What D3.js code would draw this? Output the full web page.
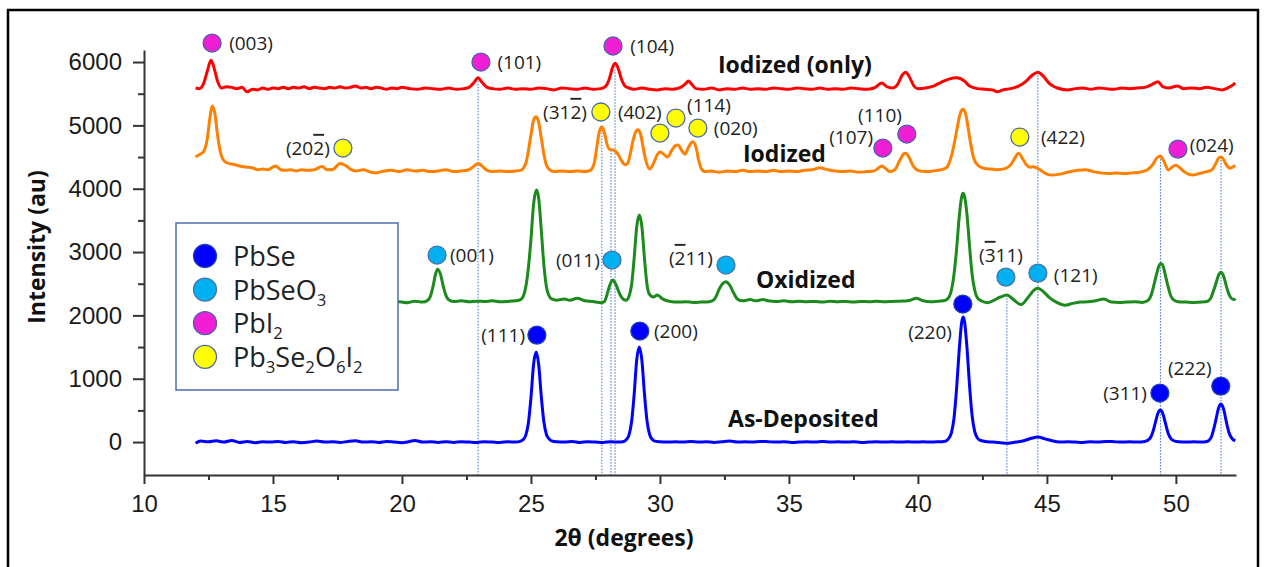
<!DOCTYPE html>
<html><head><meta charset="utf-8">
<script src="https://cdn.jsdelivr.net/npm/d3@7"></script>
<style>body{margin:0;background:#fff}svg{display:block}</style>
</head><body>
<svg id="chart" width="1265" height="567"></svg>
<script>
// ---------------- DATA ----------------
const asDeposited = [[12.0,-20],[12.2,15],[12.5,5],[12.8,20],[13.1,0],[13.4,25],[13.7,-5],[14.0,10],[14.3,-10],[14.6,5],[14.9,0],[15.2,10],[15.5,-5],[15.8,5],[16.1,-10],[16.4,0],[16.7,15],[17.0,0],[17.3,5],[17.6,-5],[17.9,10],[18.2,20],[18.5,0],[18.8,5],[19.1,-5],[19.4,10],[19.7,0],[20.0,-10],[20.3,10],[20.5,25],[20.8,0],[21.1,5],[21.4,-5],[21.7,5],[22.0,-5],[22.3,5],[22.6,0],[22.9,-5],[23.2,5],[23.5,0],[23.8,-5],[24.1,5],[24.4,0],[24.6,15],
[24.7,40],[24.8,110],[24.9,300],[25.0,700],[25.1,1220],[25.2,1420],[25.3,1220],[25.4,720],[25.5,320],[25.6,120],[25.7,50],[25.8,20],[26.0,5],[26.3,0],[26.6,10],[26.9,-5],[27.2,5],[27.5,0],[27.8,-5],[28.1,5],[28.4,0],[28.6,10],
[28.7,40],[28.8,110],[28.9,320],[29.0,750],[29.1,1300],[29.2,1500],[29.3,1290],[29.4,760],[29.5,330],[29.6,120],[29.7,45],[29.8,15],[30.0,5],[30.3,0],[30.6,5],[30.9,0],[31.2,10],[31.5,0],[31.8,5],[32.1,-5],[32.4,5],[32.7,15],[33.0,0],[33.3,5],[33.6,0],[33.9,10],[34.2,5],[34.5,0],[34.8,5],[35.1,-5],[35.4,0],[35.7,5],[36.0,0],[36.3,10],[36.6,0],[36.9,5],[37.2,0],[37.5,5],[37.8,-5],[38.1,0],[38.4,5],[38.7,0],[39.0,5],[39.3,0],[39.6,5],[39.9,0],[40.2,5],[40.5,0],[40.8,5],[41.0,10],[41.1,20],
[41.2,60],[41.3,150],[41.4,380],[41.5,850],[41.6,1450],[41.7,1900],[41.75,1975],[41.8,1920],[41.9,1500],[42.0,900],[42.1,420],[42.2,170],[42.3,70],[42.4,30],[42.6,10],[42.9,0],[43.2,-10],[43.5,-20],[43.8,0],[44.1,20],[44.4,60],[44.65,80],[44.9,55],[45.2,20],[45.5,0],[45.8,5],[46.1,0],[46.4,-5],[46.7,5],[47.0,0],[47.3,10],[47.6,5],[47.9,0],[48.2,5],[48.5,0],[48.8,10],[49.0,60],
[49.1,150],[49.2,300],[49.3,450],[49.4,505],[49.5,440],[49.6,290],[49.7,140],[49.8,60],[49.9,25],[50.1,5],[50.4,0],[50.7,5],[51.0,0],[51.2,10],[51.35,60],
[51.45,180],[51.55,350],[51.65,530],[51.75,600],[51.85,520],[51.95,330],[52.05,160],[52.15,70],[52.3,20]];

const oxidized = [[12.0,2200],[13.0,2220],[14.0,2210],[15.0,2230],[16.0,2210],[17.0,2220],[18.0,2210],[19.0,2220],[19.6,2210],[19.9,2215],[20.2,2200],[20.5,2225],[20.8,2210],[21.0,2240],
[21.1,2300],[21.2,2450],[21.3,2650],[21.38,2730],[21.5,2640],[21.6,2460],[21.7,2320],[21.8,2250],[22.0,2220],[22.3,2230],[22.6,2215],[22.9,2225],[23.2,2220],[23.5,2230],[23.8,2215],[24.1,2220],[24.4,2230],[24.6,2250],
[24.7,2300],[24.8,2450],[24.9,2750],[25.0,3200],[25.1,3750],[25.22,3980],[25.3,3850],[25.4,3350],[25.5,2800],[25.6,2450],[25.7,2310],[25.8,2260],[26.0,2240],[26.3,2260],[26.5,2240],[26.8,2270],[27.1,2230],[27.4,2220],[27.7,2200],[27.85,2220],
[27.95,2330],[28.05,2470],[28.17,2560],[28.3,2480],[28.45,2330],[28.6,2250],[28.7,2240],[28.8,2300],
[28.9,2480],[29.0,2900],[29.1,3400],[29.2,3585],[29.3,3400],[29.4,2900],[29.5,2480],[29.6,2330],[29.75,2290],[29.9,2320],[30.1,2260],[30.4,2220],[30.7,2210],[31.0,2215],[31.3,2205],[31.6,2210],[31.9,2215],[32.1,2250],
[32.2,2320],[32.3,2420],[32.45,2510],[32.56,2530],[32.7,2480],[32.85,2360],[33.0,2260],[33.2,2230],[33.5,2250],[33.7,2230],[34.0,2250],[34.2,2230],[34.5,2220],[34.8,2230],[35.1,2215],[35.4,2225],[35.7,2215],[36.0,2220],[36.3,2210],[36.6,2225],[36.9,2215],[37.2,2220],[37.5,2210],[37.8,2220],[38.1,2215],[38.4,2225],[38.7,2215],[39.0,2220],[39.3,2225],[39.6,2230],[39.95,2270],[40.2,2230],[40.5,2215],[40.8,2225],[41.0,2230],[41.15,2260],
[41.3,2400],[41.4,2650],[41.5,3050],[41.6,3550],[41.7,3880],[41.75,3930],[41.8,3890],[41.9,3600],[42.0,3100],[42.1,2650],[42.2,2400],[42.3,2280],[42.45,2230],[42.7,2200],[42.9,2230],[43.2,2290],[43.45,2320],[43.7,2250],[44.0,2170],[44.3,2300],[44.5,2400],[44.65,2430],[44.85,2380],[45.1,2280],[45.4,2200],[45.7,2160],[46.0,2190],[46.3,2210],[46.6,2215],[46.9,2230],[47.2,2260],[47.5,2210],[47.8,2205],[48.1,2210],[48.4,2215],[48.7,2205],[48.9,2230],
[49.05,2330],[49.15,2480],[49.25,2650],[49.35,2790],[49.42,2820],[49.5,2780],[49.6,2620],[49.7,2450],[49.8,2310],[49.9,2250],[50.1,2215],[50.4,2210],[50.7,2205],[51.0,2210],[51.2,2220],[51.35,2270],
[51.45,2380],[51.55,2500],[51.65,2630],[51.75,2680],[51.85,2620],[51.95,2470],[52.05,2340],[52.15,2270],[52.25,2250],[52.3,2270]];

const iodized = [[12.0,4500],[12.15,4540],[12.3,4580],[12.45,4780],[12.55,5100],[12.64,5305],[12.75,5180],[12.85,4850],[12.95,4600],[13.05,4470],[13.2,4410],[13.4,4390],[13.6,4370],[13.8,4350],[14.0,4340],[14.2,4330],[14.4,4300],[14.6,4310],[14.8,4300],[15.1,4360],[15.3,4300],[15.5,4290],[15.7,4300],[15.9,4280],[16.1,4300],[16.3,4290],[16.6,4300],[16.9,4350],[17.1,4300],[17.3,4300],[17.6,4400],[17.8,4370],[18.0,4310],[18.2,4280],[18.5,4300],[18.8,4260],[19.0,4250],[19.3,4280],[19.6,4290],[19.9,4270],[20.2,4300],[20.5,4280],[20.8,4290],[21.1,4270],[21.4,4280],[21.7,4300],[22.0,4270],[22.3,4280],[22.6,4300],[22.8,4360],[22.95,4400],[23.1,4360],[23.3,4290],[23.5,4270],[23.8,4280],[24.1,4270],[24.4,4280],[24.6,4290],
[24.8,4400],[24.9,4600],[25.0,4850],[25.1,5080],[25.2,5135],[25.3,5050],[25.4,4800],[25.5,4550],[25.6,4370],[25.75,4290],[25.9,4270],[26.2,4280],[26.5,4270],[26.8,4280],[27.1,4270],[27.3,4290],[27.45,4400],
[27.55,4650],[27.65,4900],[27.75,4980],[27.85,4880],[27.95,4700],[28.05,4620],[28.2,4610],[28.35,4560],[28.5,4450],[28.65,4380],[28.75,4400],[28.85,4550],
[28.95,4750],[29.05,4890],[29.15,4930],[29.25,4860],[29.35,4650],[29.45,4450],[29.6,4310],[29.75,4400],[29.9,4540],[30.0,4580],[30.1,4560],[30.3,4500],[30.45,4600],[30.6,4680],[30.7,4690],[30.85,4600],[30.97,4545],[31.1,4650],[31.27,4740],[31.4,4650],[31.5,4450],[31.6,4320],[31.75,4270],[32.0,4280],[32.3,4260],[32.6,4280],[32.9,4270],[33.2,4290],[33.5,4270],[33.8,4280],[34.1,4270],[34.4,4290],[34.7,4270],[35.0,4280],[35.3,4270],[35.6,4290],[35.9,4300],[36.2,4330],[36.5,4300],[36.8,4280],[37.1,4270],[37.4,4280],[37.7,4260],[38.0,4270],[38.3,4280],[38.45,4320],[38.6,4360],[38.75,4320],[38.9,4270],[39.1,4300],[39.3,4450],[39.45,4550],[39.53,4560],[39.65,4500],[39.8,4370],[40.0,4290],[40.3,4270],[40.6,4280],[40.9,4300],[41.1,4330],[41.25,4450],
[41.35,4600],[41.45,4800],[41.55,5020],[41.65,5200],[41.75,5255],[41.85,5180],[41.95,4950],[42.05,4700],[42.15,4500],[42.3,4380],[42.5,4330],[42.8,4310],[43.1,4300],[43.4,4320],[43.6,4380],[43.75,4480],[43.9,4560],[44.05,4480],[44.2,4380],[44.35,4340],[44.45,4345],[44.6,4330],[44.8,4280],[45.0,4230],[45.2,4215],[45.5,4230],[45.8,4260],[46.2,4290],[46.5,4300],[46.8,4270],[47.1,4250],[47.4,4240],[47.7,4250],[48.0,4240],[48.3,4250],[48.6,4260],[48.9,4300],[49.1,4380],[49.25,4480],[49.4,4515],[49.55,4420],[49.7,4295],[49.85,4340],[50.0,4370],[50.15,4330],[50.35,4260],[50.65,4215],[50.9,4240],[51.2,4270],[51.4,4300],[51.55,4400],[51.65,4480],[51.75,4500],[51.85,4460],[51.95,4380],[52.1,4325],[52.2,4340],[52.3,4370]];

const iodizedOnly = [[12.0,5590],[12.15,5580],[12.3,5650],[12.45,5850],[12.6,6030],[12.72,5900],[12.85,5700],[13.0,5590],[13.2,5610],[13.4,5600],[13.6,5580],[13.8,5600],[14.0,5530],[14.2,5570],[14.4,5560],[14.6,5590],[14.8,5570],[15.0,5590],[15.2,5580],[15.4,5600],[15.6,5580],[15.8,5600],[16.0,5590],[16.2,5610],[16.4,5580],[16.6,5600],[16.8,5590],[17.0,5580],[17.2,5600],[17.4,5590],[17.6,5610],[17.8,5590],[18.0,5600],[18.2,5620],[18.4,5590],[18.6,5600],[18.8,5580],[19.0,5600],[19.2,5590],[19.4,5570],[19.6,5590],[19.8,5580],[20.0,5600],[20.3,5580],[20.6,5570],[20.9,5590],[21.2,5580],[21.5,5570],[21.8,5590],[22.1,5570],[22.4,5580],[22.6,5600],[22.8,5680],[22.95,5750],[23.1,5680],[23.3,5600],[23.5,5580],[23.8,5570],[24.1,5590],[24.4,5570],[24.7,5580],[25.0,5570],[25.3,5590],[25.6,5580],[25.9,5560],[26.2,5590],[26.5,5580],[26.8,5570],[27.1,5590],[27.4,5570],[27.7,5580],[27.9,5620],[28.05,5750],[28.15,5900],[28.26,5980],[28.38,5900],[28.5,5740],[28.65,5620],[28.8,5590],[29.0,5570],[29.3,5590],[29.6,5570],[29.9,5560],[30.2,5580],[30.5,5570],[30.8,5600],[31.0,5660],[31.1,5700],[31.25,5640],[31.4,5580],[31.7,5570],[32.0,5590],[32.3,5560],[32.6,5580],[32.9,5570],[33.2,5590],[33.5,5570],[33.8,5580],[34.1,5570],[34.4,5590],[34.7,5580],[35.0,5570],[35.3,5590],[35.6,5580],[35.9,5570],[36.2,5590],[36.5,5570],[36.8,5580],[37.1,5570],[37.4,5590],[37.7,5580],[38.0,5570],[38.3,5590],[38.6,5670],[38.8,5610],[39.0,5590],[39.2,5640],[39.4,5800],[39.53,5840],[39.65,5780],[39.85,5620],[40.0,5580],[40.3,5590],[40.6,5620],[40.9,5680],[41.2,5730],[41.5,5750],[41.8,5700],[42.0,5620],[42.3,5580],[42.6,5570],[42.9,5560],[43.06,5530],[43.3,5560],[43.6,5580],[43.9,5620],[44.2,5700],[44.45,5800],[44.65,5840],[44.85,5780],[45.1,5660],[45.4,5590],[45.8,5560],[46.1,5580],[46.4,5590],[46.7,5570],[47.0,5590],[47.3,5580],[47.6,5570],[47.9,5590],[48.2,5580],[48.5,5590],[48.8,5600],[49.1,5650],[49.3,5690],[49.5,5610],[49.7,5590],[50.07,5620],[50.3,5580],[50.6,5590],[50.9,5580],[51.2,5600],[51.5,5580],[51.8,5560],[52.0,5590],[52.15,5620],[52.3,5670]];

const seriesNames = ["As-Deposited", "Oxidized", "Iodized", "Iodized (only)"];
// name label anchor (start of text, baseline) in data units
const seriesLabelX = [32.64, 33.72, 33.22, 32.25];
const seriesLabelY = [237, 2432, 4421, 5826];

const phaseNames = ["PbSe", "PbSeO_3", "PbI_2", "Pb_3Se_2O_6I_2"];

// reflection markers: phase index, circle position, hkl label, label position (data units), anchor
const reflections = [
  {p:2, x:12.64, y:6300, t:"(003)", lx:13.3,  ly:6300, a:"start"},
  {p:2, x:23.06, y:6000, t:"(101)", lx:23.7,  ly:6000, a:"start"},
  {p:2, x:28.18, y:6253, t:"(104)", lx:28.85, ly:6253, a:"start"},
  {p:3, x:17.71, y:4642, t:"(20^2)", lx:17.2, ly:4642, a:"end"},
  {p:3, x:27.71, y:5211, t:"(31^2)", lx:27.17, ly:5211, a:"end"},
  {p:3, x:30.0,  y:4879, t:"(402)", lx:28.37, ly:5211, a:"start"},
  {p:3, x:30.62, y:5116, t:"(114)", lx:31.05, ly:5321, a:"start"},
  {p:3, x:31.47, y:4958, t:"(020)", lx:32.09, ly:4958, a:"start"},
  {p:2, x:38.64, y:4642, t:"(107)", lx:38.26, ly:4816, a:"end"},
  {p:2, x:39.57, y:4863, t:"(110)", lx:38.53, ly:5163, a:"middle"},
  {p:3, x:43.95, y:4816, t:"(422)", lx:44.77, ly:4816, a:"start"},
  {p:2, x:50.08, y:4626, t:"(024)", lx:50.54, ly:4689, a:"start"},
  {p:1, x:21.36, y:2953, t:"(001)", lx:21.86, ly:2953, a:"start"},
  {p:1, x:28.14, y:2874, t:"(011)", lx:27.67, ly:2874, a:"end"},
  {p:1, x:32.56, y:2795, t:"(^211)", lx:32.05, ly:2905, a:"end"},
  {p:1, x:43.41, y:2605, t:"(^311)", lx:43.22, ly:2953, a:"middle"},
  {p:1, x:44.65, y:2668, t:"(121)", lx:45.27, ly:2637, a:"start"},
  {p:0, x:25.23, y:1689, t:"(111)", lx:24.77, ly:1689, a:"end"},
  {p:0, x:29.22, y:1753, t:"(200)", lx:29.77, ly:1753, a:"start"},
  {p:0, x:41.74, y:2179, t:"(220)", lx:40.47, ly:1737, a:"middle"},
  {p:0, x:49.38, y:774,  t:"(311)", lx:48.88, ly:774,  a:"end"},
  {p:0, x:51.74, y:884,  t:"(222)", lx:50.54, ly:1168, a:"middle"}
];

// guide lines: x position and top intensity
const guideX   = [22.95, 27.75, 28.1, 28.26, 43.45, 44.65, 49.4, 51.75];
const guideTop = [5750, 4980, 4610, 5980, 2320, 5840, 4515, 4500];

const xMajorTicks = [10, 15, 20, 25, 30, 35, 40, 45, 50];
const xMinorTicks = [12.5, 17.5, 22.5, 27.5, 32.5, 37.5, 42.5, 47.5];
const yMajorTicks = [0, 1000, 2000, 3000, 4000, 5000, 6000];
const yMinorTicks = [500, 1500, 2500, 3500, 4500, 5500];

// ---------------- DRAW ----------------
const seriesData = [asDeposited, oxidized, iodized, iodizedOnly];
const seriesColors = ["#0000ff", "#1c8a1c", "#ff8000", "#ff0000"];
const phaseFill = ["#0000ff", "#00b0f0", "#f01fd6", "#ffff00"];
const phaseStroke = ["#2340b0", "#4a72a8", "#4a62a8", "#4a6aa8"];

const svg = d3.select("#chart");
svg.append("rect").attr("x",0).attr("y",0).attr("width",1265).attr("height",567).attr("fill","#fff");
svg.append("rect").attr("x",8).attr("y",10).attr("width",1250).attr("height",580)
   .attr("fill","none").attr("stroke","#000").attr("stroke-width",2.5);

const x = d3.scaleLinear().domain([10, 52.33]).range([144, 1236]);
const y = d3.scaleLinear().domain([-520, 6190]).range([475, 50]);

const ANNOT_FONT = "'Open Sans', 'DejaVu Sans', sans-serif";

function rich(sel, str, drop) {
  // '_' -> next char subscript, '^' -> next char overlined
  let i = 0, sub = false;
  while (i < str.length) {
    const c = str[i];
    if (c === "_") {
      sel.append("tspan").attr("dy", sub ? 0 : drop).attr("font-size", "0.62em").text(str[i+1]);
      sub = true; i += 2;
      continue;
    }
    if (c === "^") {
      const t = sel.append("tspan").style("text-decoration", "overline").text(str[i+1]);
      if (sub) { t.attr("dy", -drop); sub = false; }
      i += 2; continue;
    }
    let j = i; while (j < str.length && str[j] !== "_" && str[j] !== "^") j++;
    const t = sel.append("tspan").text(str.slice(i, j));
    if (sub) { t.attr("dy", -drop); sub = false; }
    i = j;
  }
}

// guide lines
svg.append("g").selectAll("line").data(guideX).join("line")
  .attr("x1", d => x(d)).attr("x2", d => x(d))
  .attr("y1", (d,i) => y(guideTop[i])).attr("y2", y(-520))
  .attr("stroke", "#3e6fd0").attr("stroke-width", 1).attr("stroke-dasharray", "1.5,1.5");

// curves
const line = d3.line().x(d => x(d[0])).y(d => y(d[1])).curve(d3.curveMonotoneX);
svg.append("g").selectAll("path").data(seriesData).join("path")
  .attr("d", line).attr("fill", "none")
  .attr("stroke", (d,i) => seriesColors[i]).attr("stroke-width", 3)
  .attr("stroke-linejoin", "round");

// axes
const axG = svg.append("g").attr("font-family", "'Liberation Sans', Arial, sans-serif");
axG.append("g").attr("transform", `translate(0,${y(-520)})`)
  .call(d3.axisBottom(x).tickValues(xMajorTicks).tickSize(9).tickSizeOuter(0).tickPadding(11).tickFormat(d3.format("d")));
axG.append("g").attr("transform", `translate(0,${y(-520)})`)
  .call(d3.axisBottom(x).tickValues(xMinorTicks).tickSize(5).tickSizeOuter(0).tickFormat(""))
  .select(".domain").remove();
axG.append("g").attr("transform", `translate(${x(10)},0)`)
  .call(d3.axisLeft(y).tickValues(yMajorTicks).tickSize(11).tickSizeOuter(0).tickPadding(11).tickFormat(d3.format("d")));
axG.append("g").attr("transform", `translate(${x(10)},0)`)
  .call(d3.axisLeft(y).tickValues(yMinorTicks).tickSize(6).tickSizeOuter(0).tickFormat(""))
  .select(".domain").remove();
axG.selectAll(".domain, .tick line").attr("stroke", "#333").attr("stroke-width", 2);
axG.selectAll(".tick text").attr("font-size", 24).attr("fill", "#1a1a1a");

// axis titles
svg.append("text").attr("x", 624).attr("y", 546).attr("text-anchor", "middle")
  .attr("font-family", ANNOT_FONT).attr("font-weight", 700).attr("font-size", 23).attr("fill", "#111")
  .text("2θ (degrees)");
svg.append("text").attr("transform", "translate(45,247) rotate(-90)").attr("text-anchor", "middle")
  .attr("font-family", ANNOT_FONT).attr("font-weight", 700).attr("font-size", 23).attr("fill", "#111")
  .text("Intensity (au)");

// series names
svg.append("g").selectAll("text").data(seriesNames).join("text")
  .attr("x", (d,i) => x(seriesLabelX[i])).attr("y", (d,i) => y(seriesLabelY[i]))
  .attr("font-family", ANNOT_FONT).attr("font-weight", 700).attr("font-size", 23).attr("fill", "#111")
  .text(d => d);

// reflection markers
const rg = svg.append("g");
rg.selectAll("circle").data(reflections).join("circle")
  .attr("cx", d => x(d.x)).attr("cy", d => y(d.y)).attr("r", 9)
  .attr("fill", d => phaseFill[d.p]).attr("stroke", d => phaseStroke[d.p]).attr("stroke-width", 1.3);
rg.selectAll("text").data(reflections).join("text")
  .attr("x", d => x(d.lx)).attr("y", d => y(d.ly)).attr("dy", "0.36em")
  .attr("text-anchor", d => d.a)
  .attr("font-family", ANNOT_FONT).attr("font-size", 19).attr("fill", "#222")
  .each(function(d) { rich(d3.select(this), d.t, 7); });

// legend
const lg = svg.append("g");
lg.append("rect").attr("x", 176).attr("y", 223).attr("width", 222).attr("height", 167)
  .attr("fill", "#fff").attr("stroke", "#4a6fa8").attr("stroke-width", 1.5);
const rows = lg.selectAll("g.row").data(phaseNames).join("g").attr("class", "row")
  .attr("transform", (d,i) => `translate(205,${256 + i*33.6})`);
rows.append("circle").attr("r", 11.5)
  .attr("fill", (d,i) => phaseFill[i]).attr("stroke", (d,i) => phaseStroke[i]).attr("stroke-width", 1.3);
rows.append("text").attr("x", 28).attr("y", 10)
  .attr("font-family", ANNOT_FONT).attr("font-size", 27).attr("fill", "#222")
  .each(function(d) { rich(d3.select(this), d, 6); });
</script>
</body></html>
